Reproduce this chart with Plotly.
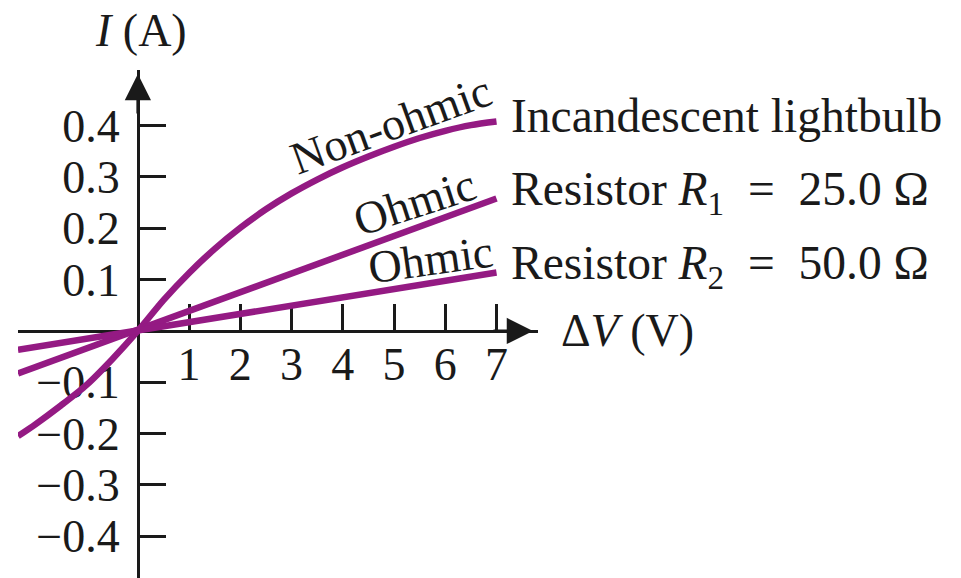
import plotly.graph_objects as go

# Current-voltage characteristics
V_BULB = [-2.34, -2.0, -1.5, -1.0, -0.5, 0.0, 0.5, 1.0, 1.5, 2.0, 2.5, 3.0, 3.5, 4.0, 4.5, 5.0, 5.5, 6.0, 6.5, 7.0]
I_BULB = [-0.205, -0.182, -0.145, -0.105, -0.055, 0.0, 0.060, 0.113, 0.160, 0.201, 0.237, 0.268, 0.295, 0.319, 0.340, 0.359, 0.376, 0.390, 0.401, 0.408]

V_R1 = [-2.34, 7.0]
I_R1 = [-0.083, 0.258]

V_R2 = [-2.34, 7.0]
I_R2 = [-0.037, 0.114]

X_TICKS = [1, 2, 3, 4, 5, 6, 7]
Y_TICKS = [-0.4, -0.3, -0.2, -0.1, 0.1, 0.2, 0.3, 0.4]
Y_TICK_TEXT = ["\u22120.4", "\u22120.3", "\u22120.2", "\u22120.1", "0.1", "0.2", "0.3", "0.4"]

SP = "\u00a0\u00a0"
CURVE_NAMES = ["Incandescent lightbulb",
               "Resistor <i>R</i><sub>1</sub>" + SP + "=" + SP + "25.0 \u03a9",
               "Resistor <i>R</i><sub>2</sub>" + SP + "=" + SP + "50.0 \u03a9"]
CURVE_TAGS = ["Non-ohmic", "Ohmic", "Ohmic"]

X_RANGE = [-2.34, 7.81]
Y_RANGE = [-0.4815, 0.5085]

PURPLE = "#941a83"
INK = "#1a1a1a"
FONT = "Liberation Serif"
FS = 46
FS_NAME = 47.5

fig = go.Figure()
curves = [(V_BULB, I_BULB), (V_R1, I_R1), (V_R2, I_R2)]
for (vx, iy), name in zip(curves, CURVE_NAMES):
    fig.add_trace(go.Scatter(
        x=vx, y=iy, mode="lines", name=name,
        line=dict(color=PURPLE, width=6.5, shape="spline", smoothing=0.8),
        hoverinfo="skip", showlegend=False,
    ))

x_frac = (0 - X_RANGE[0]) / (X_RANGE[1] - X_RANGE[0])
y_frac = (0 - Y_RANGE[0]) / (Y_RANGE[1] - Y_RANGE[0])

axis_common = dict(
    showgrid=False, zeroline=False, showline=True, linecolor=INK, linewidth=3,
    ticks="inside", ticklen=26, tickwidth=3, tickcolor=INK,
    tickfont=dict(family=FONT, size=FS, color=INK),
    layer="below traces", anchor="free", automargin=False, fixedrange=True,
)

fig.update_layout(
    width=961, height=578,
    margin=dict(l=18, r=423, t=70, b=0),
    paper_bgcolor="white", plot_bgcolor="white",
    xaxis=dict(range=X_RANGE, tickvals=X_TICKS, ticktext=[str(v) for v in X_TICKS],
               position=y_frac, ticklabelstandoff=-8, **axis_common),
    yaxis=dict(range=Y_RANGE, tickvals=Y_TICKS, ticktext=Y_TICK_TEXT,
               position=x_frac, ticklabelstandoff=8, **axis_common),
)

annotations = []
# axis arrowheads
annotations.append(dict(x=X_RANGE[1], y=0, ax=X_RANGE[1] - 0.8, ay=0, xref="x", yref="y",
                        axref="x", ayref="y", text="", showarrow=True, arrowhead=2,
                        arrowsize=1.75, arrowwidth=3, arrowcolor=INK, xshift=-5))
annotations.append(dict(x=0, y=Y_RANGE[1], ax=0, ay=Y_RANGE[1] - 0.08, xref="x", yref="y",
                        axref="x", ayref="y", text="", showarrow=True, arrowhead=2,
                        arrowsize=1.75, arrowwidth=3, arrowcolor=INK, yshift=-4))
# axis titles
annotations.append(dict(x=0, y=Y_RANGE[1], xref="x", yref="y", xanchor="center", yanchor="bottom",
                        yshift=12, xshift=3, text="<i>I</i> (A)", showarrow=False,
                        font=dict(family=FONT, size=FS, color=INK)))
annotations.append(dict(x=X_RANGE[1], y=0, xref="x", yref="y", xanchor="left", yanchor="middle",
                        xshift=21, text="\u0394<i>V</i> (V)", showarrow=False,
                        font=dict(family=FONT, size=FS, color=INK)))
# curve names at the right ends
for (vx, iy), name in zip(curves, CURVE_NAMES):
    annotations.append(dict(x=vx[-1], y=iy[-1], xref="x", yref="y", xanchor="left",
                            yanchor="middle", xshift=12, yshift=6, text=name, showarrow=False,
                            font=dict(family=FONT, size=FS_NAME, color=INK)))
# slanted tags along the curves
tag_pos = [(4.94, 0.403, -20), (5.39, 0.251, -18), (5.72, 0.140, -8)]
for (tx, ty, ang), tag in zip(tag_pos, CURVE_TAGS):
    annotations.append(dict(x=tx, y=ty, xref="x", yref="y", text=tag, showarrow=False,
                            textangle=ang, font=dict(family=FONT, size=FS, color=INK)))

fig.update_layout(annotations=annotations)
fig.write_html("out.html")
